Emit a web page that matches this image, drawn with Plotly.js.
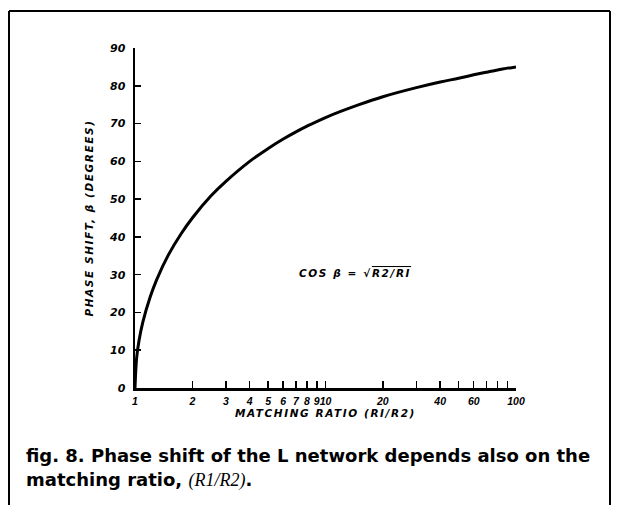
<!DOCTYPE html>
<html>
<head>
<meta charset="utf-8">
<script src="https://cdn.plot.ly/plotly-3.0.1.min.js"></script>
<style>
html,body{margin:0;padding:0;background:#fff;}
#chart{width:617px;height:514px;}
</style>
</head>
<body>
<div id="chart"></div>
<script>
// Matching ratio R1/R2 (x) and phase shift in degrees (y)
const ratio = [1, 1.02, 1.05, 1.1, 1.2, 1.3, 1.5, 1.75, 2, 2.5, 3, 4, 5, 6, 7, 8, 10, 15, 20, 30, 40, 50, 60, 70, 80, 100];
const phaseDeg = [0, 8, 12.6, 17.5, 24, 28.7, 35.3, 40.9, 45, 50.8, 54.7, 60, 63.4, 65.9, 67.8, 69.3, 71.6, 75, 77.1, 79.5, 81.0, 82.0, 82.9, 83.6, 84.2, 85.0];

const xTickVals = [1, 2, 3, 4, 5, 6, 7, 8, 9, 10, 20, 30, 40, 50, 60, 70, 80, 90, 100];
const xTickText = ["1", "2", "3", "4", "5", "6", "7", "8", "9", "10", "20", "", "40", "", "60", "", "", "", "100"];
const yTickVals = [0, 10, 20, 30, 40, 50, 60, 70, 80, 90];

const xTitle = "MATCHING RATIO (RI/R2)";
const yTitle = "PHASE SHIFT, β (DEGREES)";
const formulaA = "COS β = √";
const formulaB = "R2/RI";
const captionLine1 = "fig. 8. Phase shift of the L network depends also on the";
const captionLine2a = "matching ratio, ";
const captionLine2b = "(R1/R2)";

// plot area in pixels
const W = 617, H = 514;
const L = 135, R = 516, T = 48, B = 388;
const px2x = p => (p - L) / (R - L);
const px2y = p => (B - p) / (B - T);

const sp = (s, ls) => "<span style=\"letter-spacing:" + ls + "px\">" + s + "</span>";

const yTickFont = {family: "DejaVu Sans, sans-serif", size: 11, color: "#000", style: "italic", weight: "bold"};
const xTickFont = {family: "Liberation Sans, Arial, sans-serif", size: 10.5, color: "#000", style: "italic", weight: "bold"};
const titleFont = {family: "DejaVu Sans, sans-serif", size: 10.5, color: "#000", style: "italic", weight: "bold"};

const trace = {
  x: ratio, y: phaseDeg, type: "scatter", mode: "lines",
  line: {color: "#000", width: 3, shape: "spline", smoothing: 1},
  hoverinfo: "skip"
};

const layout = {
  width: W, height: H,
  margin: {l: L, r: W - R, t: T, b: H - B},
  paper_bgcolor: "#fff", plot_bgcolor: "#fff",
  showlegend: false,
  xaxis: {
    type: "log", range: [0, 2],
    tickmode: "array", tickvals: xTickVals, ticktext: xTickText, tickangle: 0,
    ticks: "inside", ticklen: 7, tickwidth: 1.5, tickcolor: "#000",
    showline: true, linecolor: "#000", linewidth: 2.5,
    showgrid: false, zeroline: false,
    tickfont: xTickFont, ticklabelstandoff: 2,
    title: {text: sp(xTitle, 1.6), font: titleFont, standoff: 4}
  },
  yaxis: {
    range: [0, 90],
    tickmode: "array", tickvals: yTickVals,
    ticks: "inside", ticklen: 6, tickwidth: 1.5, tickcolor: "#000",
    showline: true, linecolor: "#000", linewidth: 2.5,
    showgrid: false, zeroline: false,
    tickfont: yTickFont, ticklabelstandoff: 5,
    title: {text: sp(yTitle, 1.6), font: titleFont, standoff: 14}
  },
  annotations: [
    {xref: "x", yref: "y", x: Math.log10(14.3), y: 30.4, showarrow: false,
     text: sp(formulaA, 1.6) + "<span style=\"text-decoration:overline;letter-spacing:1.6px\">" + formulaB + "</span>",
     font: {family: "DejaVu Sans, sans-serif", size: 10.5, color: "#000", style: "italic", weight: "bold"}},
    {xref: "paper", yref: "paper", x: px2x(24), y: px2y(455), xanchor: "left", yanchor: "middle",
     text: captionLine1, showarrow: false,
     font: {family: "DejaVu Sans, sans-serif", size: 18, color: "#000", weight: "bold"}},
    {xref: "paper", yref: "paper", x: px2x(24), y: px2y(480), xanchor: "left", yanchor: "middle",
     text: captionLine2a + "<span style=\"font-family:'Liberation Serif';font-style:italic;font-weight:normal\">" + captionLine2b + "</span>.",
     showarrow: false,
     font: {family: "DejaVu Sans, sans-serif", size: 18, color: "#000", weight: "bold"}}
  ],
  shapes: [
    {type: "line", xref: "paper", yref: "paper", x0: px2x(9), x1: px2x(610), y0: px2y(11), y1: px2y(11), line: {color: "#000", width: 2}},
    {type: "line", xref: "paper", yref: "paper", x0: px2x(9), x1: px2x(9), y0: px2y(11), y1: px2y(505), line: {color: "#000", width: 2}},
    {type: "line", xref: "paper", yref: "paper", x0: px2x(610), x1: px2x(610), y0: px2y(11), y1: px2y(505), line: {color: "#000", width: 2}}
  ]
};

Plotly.newPlot("chart", [trace], layout, {staticPlot: true, displayModeBar: false});
</script>
</body>
</html>
